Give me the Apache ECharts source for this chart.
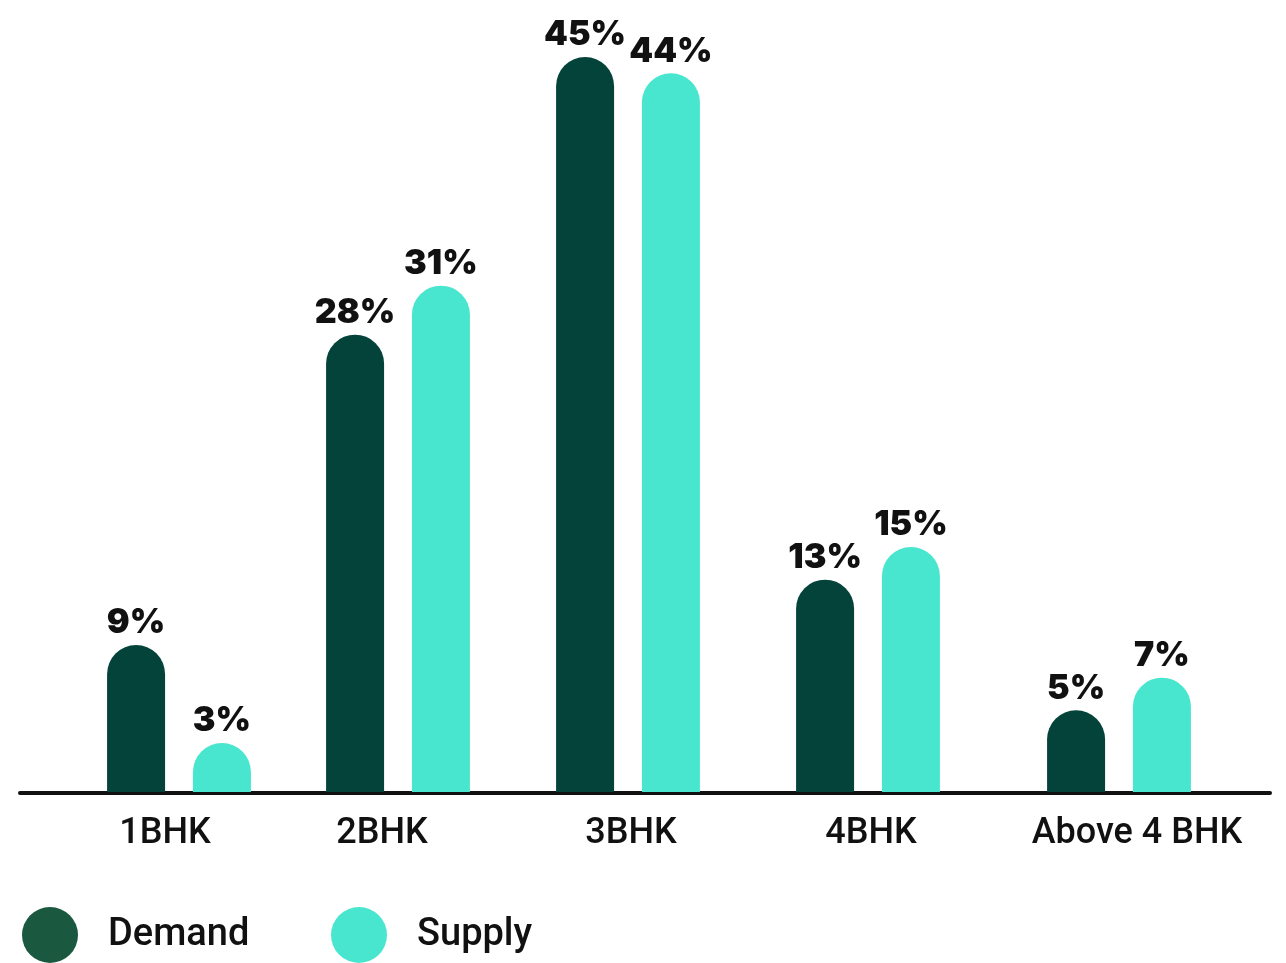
<!DOCTYPE html>
<html>
<head>
<meta charset="utf-8">
<style>
  html, body { margin: 0; padding: 0; background: #ffffff; }
  #chart { width: 1286px; height: 963px; }
</style>
<script src="https://cdn.jsdelivr.net/npm/echarts@6/dist/echarts.min.js"></script>
</head>
<body>
<div id="chart"></div>
<script>
// Share of demand and supply by apartment configuration (%)
const categories = ['1BHK', '2BHK', '3BHK', '4BHK', 'Above 4 BHK'];
const demand = [9, 28, 45, 13, 5];
const supply = [3, 31, 44, 15, 7];

// Layout: centre of each bar pair and its label nudge (px)
const groupCenters = [179, 398, 628, 868, 1119];
const labelShift = [-14, -16, 3, 3, 18];
const GROUP_W = 200;

const DEMAND_COLOR = '#04433a';
const SUPPLY_COLOR = '#48e6cf';
const LEGEND_DEMAND = '#1b5840';
const TEXT = '#111111';
const VALUE_FONT = 'Inter';
const AXIS_FONT = 'Roboto';

const grids = [];
const xAxes = [];
const yAxes = [];
const series = [];

categories.forEach((cat, i) => {
  grids.push({
    left: groupCenters[i] - GROUP_W / 2,
    width: GROUP_W,
    top: 8,
    bottom: 171
  });
  const shift = labelShift[i];
  xAxes.push({
    type: 'category',
    gridIndex: i,
    data: [cat],
    axisLine: { show: false },
    axisTick: { show: false },
    axisLabel: {
      color: TEXT,
      fontFamily: AXIS_FONT,
      fontWeight: 500,
      fontSize: 36,
      margin: 24,
      padding: shift >= 0 ? [0, 0, 0, shift * 2] : [0, -shift * 2, 0, 0]
    }
  });
  yAxes.push({
    type: 'value',
    gridIndex: i,
    min: 0,
    max: 48,
    show: false
  });
  const label = {
    show: true,
    position: 'top',
    distance: 5,
    formatter: '{c}%',
    color: TEXT,
    fontFamily: VALUE_FONT,
    fontWeight: 900,
    fontSize: 34
  };
  series.push({
    name: 'Demand',
    type: 'bar',
    xAxisIndex: i,
    yAxisIndex: i,
    data: [demand[i]],
    barWidth: 58,
    barGap: '48%',
    itemStyle: { color: DEMAND_COLOR, borderRadius: [29, 29, 0, 0] },
    label: label
  });
  series.push({
    name: 'Supply',
    type: 'bar',
    xAxisIndex: i,
    yAxisIndex: i,
    data: [supply[i]],
    barWidth: 58,
    barGap: '48%',
    itemStyle: { color: SUPPLY_COLOR, borderRadius: [29, 29, 0, 0] },
    label: label
  });
});

// Full-width baseline shared by all groups
grids.push({ left: 20, right: 16, top: 8, bottom: 170 });
xAxes.push({
  type: 'category',
  gridIndex: categories.length,
  data: [''],
  axisLine: { show: true, lineStyle: { color: TEXT, width: 4 } },
  axisTick: { show: false },
  axisLabel: { show: false }
});
yAxes.push({ type: 'value', gridIndex: categories.length, min: 0, max: 48, show: false });

const legendText = {
  color: TEXT,
  fontFamily: AXIS_FONT,
  fontWeight: 500,
  fontSize: 38,
  padding: [0, 0, 0, 25]
};

const chart = echarts.init(document.getElementById('chart'), null, { renderer: 'canvas' });
chart.setOption({
  animation: false,
  backgroundColor: '#ffffff',
  grid: grids,
  xAxis: xAxes,
  yAxis: yAxes,
  legend: [
    {
      left: 22,
      top: 907,
      padding: 0,
      icon: 'circle',
      itemWidth: 56,
      itemHeight: 56,
      selectedMode: false,
      data: [{ name: 'Demand', itemStyle: { color: LEGEND_DEMAND } }],
      textStyle: legendText
    },
    {
      left: 331,
      top: 907,
      padding: 0,
      icon: 'circle',
      itemWidth: 56,
      itemHeight: 56,
      selectedMode: false,
      data: [{ name: 'Supply', itemStyle: { color: SUPPLY_COLOR } }],
      textStyle: legendText
    }
  ],
  series: series
});
</script>
</body>
</html>
